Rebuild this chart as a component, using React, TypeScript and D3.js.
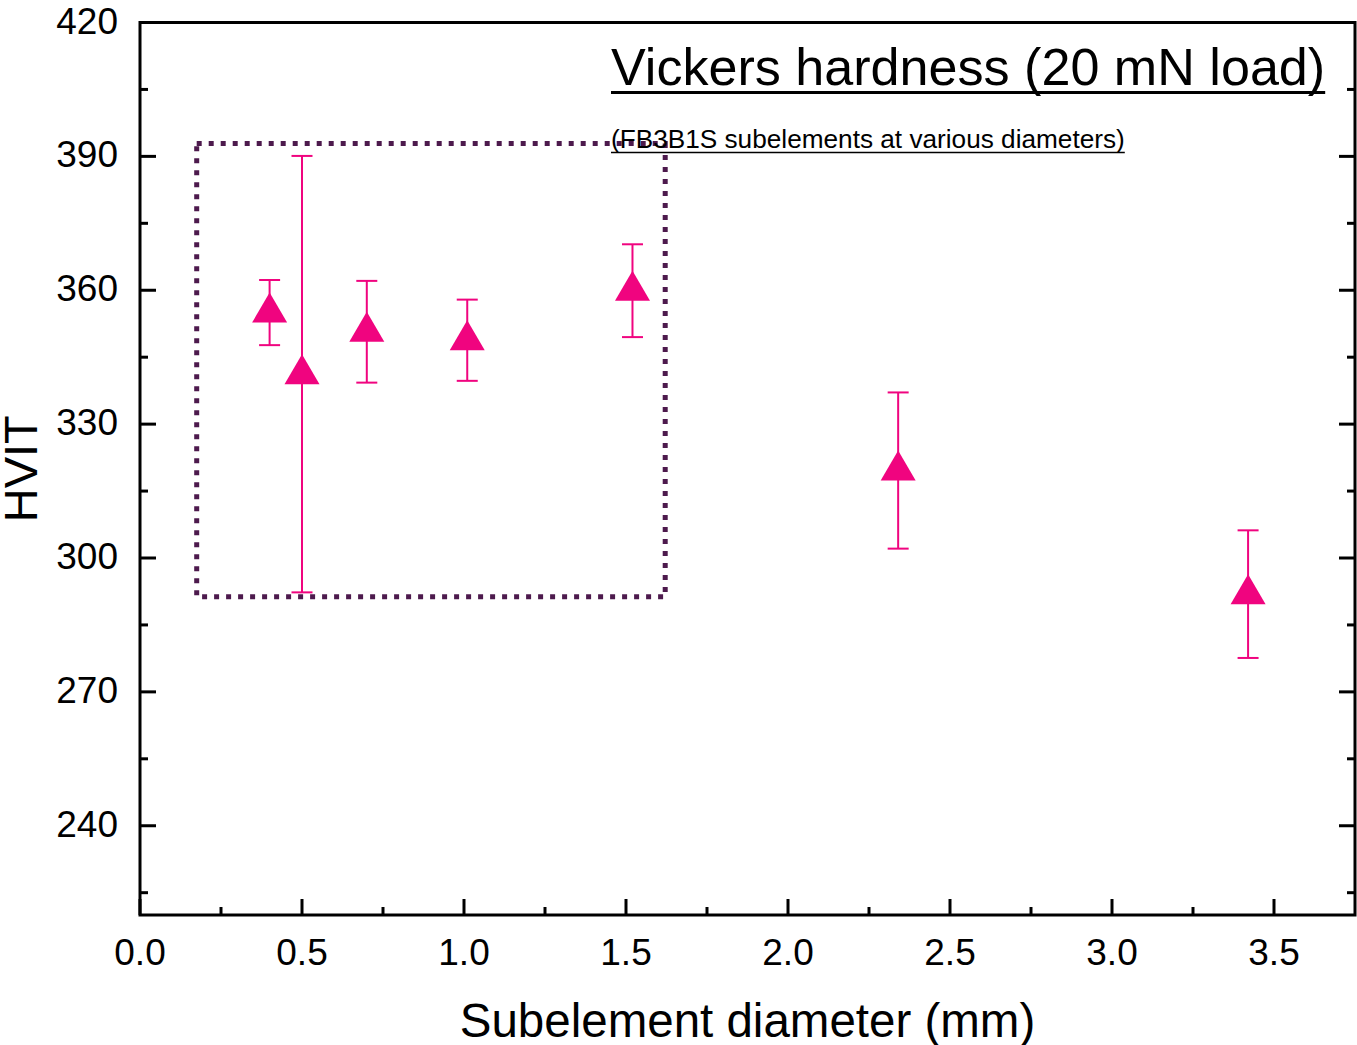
import React, { useEffect, useRef, useState } from "react";
import * as d3 from "d3";

// Subelement diameter (mm) and measured Vickers hardness HVIT with its spread
const diameters = [0.4, 0.5, 0.7, 1.01, 1.52, 2.34, 3.42];
const hvit = [355.0, 341.2, 350.7, 348.8, 359.9, 319.6, 291.9];
const hvitErr = [7.3, 48.9, 11.4, 9.1, 10.4, 17.5, 14.3];

// Axis tick values
const xMajorTicks = [0, 0.5, 1.0, 1.5, 2.0, 2.5, 3.0, 3.5];
const xMinorTicks = [0.25, 0.75, 1.25, 1.75, 2.25, 2.75, 3.25];
const yMajorTicks = [240, 270, 300, 330, 360, 390, 420];
const yMinorTicks = [225, 255, 285, 315, 345, 375, 405];

// Highlighted region of the small-diameter subelements
const boxX = [0.175, 1.621];
const boxY = [291.3, 392.9];

const titleText = "Vickers hardness (20 mN load)";
const subtitleText = "(FB3B1S subelements at various diameters)";
const xLabel = "Subelement diameter (mm)";
const yLabel = "HVIT";

const W = 1357;
const H = 1045;
const FONT = "'Liberation Sans', Arial, Helvetica, sans-serif";
const PINK = "#f0047f";
const BOX = "#4d1a4d";

function UnderlinedText(props: {
  x: number;
  y: number;
  size: number;
  text: string;
  gap: number;
  thickness: number;
}) {
  const ref = useRef<SVGTextElement>(null);
  const [w, setW] = useState(0);
  useEffect(() => {
    if (ref.current) setW(ref.current.getComputedTextLength());
  }, [props.text]);
  return (
    <g>
      <text
        ref={ref}
        x={props.x}
        y={props.y}
        fontSize={props.size}
        fontFamily={FONT}
        fill="#000"
      >
        {props.text}
      </text>
      {w > 0 && (
        <line
          x1={props.x}
          x2={props.x + w}
          y1={props.y + props.gap}
          y2={props.y + props.gap}
          stroke="#000"
          strokeWidth={props.thickness}
        />
      )}
    </g>
  );
}

export default function App() {
  const left = 140;
  const right = 1355;
  const top = 22.5;
  const bottom = 915;

  const x = d3.scaleLinear().domain([0, 3.75]).range([left, right]);
  const y = d3.scaleLinear().domain([220, 420]).range([bottom, top]);

  const majorLen = 16;
  const minorLen = 8;

  // Triangle marker with its centroid on the data point
  const triW = 35;
  const triH = 30;
  const tri = `M0,${(-2 * triH) / 3} L${triW / 2},${triH / 3} L${-triW / 2},${triH / 3} Z`;
  const capHalf = 10.5;

  return (
    <svg
      width={W}
      height={H}
      style={{ position: "absolute", left: 0, top: 0, background: "#fff" }}
    >
      <rect x={0} y={0} width={W} height={H} fill="#fff" />

      {/* highlighted region */}
      <rect
        x={x(boxX[0])}
        y={y(boxY[1])}
        width={x(boxX[1]) - x(boxX[0])}
        height={y(boxY[0]) - y(boxY[1])}
        fill="none"
        stroke={BOX}
        strokeWidth={5}
        strokeDasharray="5 7"
      />

      {/* error bars */}
      {diameters.map((d, i) => {
        const cx = x(d);
        const y1 = y(hvit[i] + hvitErr[i]);
        const y2 = y(hvit[i] - hvitErr[i]);
        return (
          <g key={`e${i}`} stroke={PINK} strokeWidth={2}>
            <line x1={cx} x2={cx} y1={y1} y2={y2} />
            <line x1={cx - capHalf} x2={cx + capHalf} y1={y1} y2={y1} />
            <line x1={cx - capHalf} x2={cx + capHalf} y1={y2} y2={y2} />
          </g>
        );
      })}

      {/* markers */}
      {diameters.map((d, i) => (
        <path
          key={`m${i}`}
          d={tri}
          transform={`translate(${x(d)},${y(hvit[i])})`}
          fill={PINK}
        />
      ))}

      {/* ticks: bottom */}
      {xMajorTicks.map((t) => (
        <line
          key={`xM${t}`}
          x1={x(t)}
          x2={x(t)}
          y1={bottom}
          y2={bottom - majorLen}
          stroke="#000"
          strokeWidth={3}
        />
      ))}
      {xMinorTicks.map((t) => (
        <line
          key={`xm${t}`}
          x1={x(t)}
          x2={x(t)}
          y1={bottom}
          y2={bottom - minorLen}
          stroke="#000"
          strokeWidth={3}
        />
      ))}

      {/* ticks: left and right */}
      {yMajorTicks.map((t) => (
        <g key={`yM${t}`} stroke="#000" strokeWidth={3}>
          <line x1={left} x2={left + majorLen} y1={y(t)} y2={y(t)} />
          <line x1={right} x2={right - majorLen} y1={y(t)} y2={y(t)} />
        </g>
      ))}
      {yMinorTicks.map((t) => (
        <g key={`ym${t}`} stroke="#000" strokeWidth={3}>
          <line x1={left} x2={left + minorLen} y1={y(t)} y2={y(t)} />
          <line x1={right} x2={right - minorLen} y1={y(t)} y2={y(t)} />
        </g>
      ))}

      {/* frame */}
      <rect
        x={left}
        y={top}
        width={right - left}
        height={bottom - top}
        fill="none"
        stroke="#000"
        strokeWidth={3}
      />

      {/* tick labels */}
      {xMajorTicks.map((t) => (
        <text
          key={`xl${t}`}
          x={x(t)}
          y={965}
          textAnchor="middle"
          fontSize={37}
          fontFamily={FONT}
          fill="#000"
        >
          {d3.format(".1f")(t)}
        </text>
      ))}
      {yMajorTicks.map((t) => (
        <text
          key={`yl${t}`}
          x={118}
          y={y(t) + 11}
          textAnchor="end"
          fontSize={37}
          fontFamily={FONT}
          fill="#000"
        >
          {t}
        </text>
      ))}

      {/* axis titles */}
      <text
        x={(left + right) / 2}
        y={1037}
        textAnchor="middle"
        fontSize={47.5}
        fontFamily={FONT}
        fill="#000"
      >
        {xLabel}
      </text>
      <text
        transform={`translate(37,${(top + bottom) / 2}) rotate(-90)`}
        textAnchor="middle"
        fontSize={47}
        fontFamily={FONT}
        fill="#000"
      >
        {yLabel}
      </text>

      {/* title and subtitle */}
      <UnderlinedText x={611} y={85} size={52.1} text={titleText} gap={7.5} thickness={3} />
      <UnderlinedText x={611} y={148} size={26.2} text={subtitleText} gap={4.5} thickness={1.5} />
    </svg>
  );
}
